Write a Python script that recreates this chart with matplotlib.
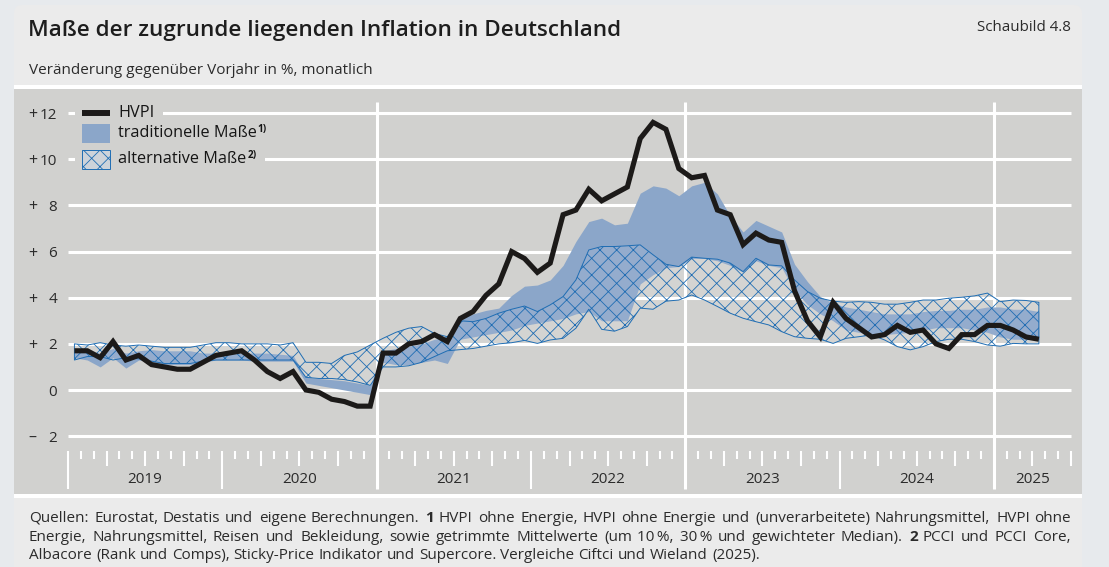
import matplotlib
matplotlib.use('Agg')
import matplotlib.pyplot as plt
from matplotlib.patches import Rectangle, FancyBboxPatch
from matplotlib.transforms import IdentityTransform
import numpy as np

plt.rcParams['font.family'] = ['Open Sans', 'DejaVu Sans']
plt.rcParams['hatch.linewidth'] = 0.6
plt.rcParams['hatch.color'] = '#1f6db3'

# ---------------- data (monthly, Jan 2019 - Apr 2025) ----------------
years = ['2019', '2020', '2021', '2022', '2023', '2024', '2025']
yticks = [12, 10, 8, 6, 4, 2, 0, -2]

hvpi = [1.7, 1.7, 1.4, 2.1, 1.3, 1.5, 1.1, 1.0, 0.9, 0.9, 1.2, 1.5,
        1.6, 1.7, 1.3, 0.8, 0.5, 0.8, 0.0, -0.1, -0.4, -0.5, -0.7, -0.7,
        1.6, 1.6, 2.0, 2.1, 2.4, 2.1, 3.1, 3.4, 4.1, 4.6, 6.0, 5.7,
        5.1, 5.5, 7.6, 7.8, 8.7, 8.2, 8.5, 8.8, 10.9, 11.6, 11.3, 9.6,
        9.2, 9.3, 7.8, 7.6, 6.3, 6.8, 6.5, 6.4, 4.3, 3.0, 2.3, 3.8,
        3.1, 2.7, 2.3, 2.4, 2.8, 2.5, 2.6, 2.0, 1.8, 2.4, 2.4, 2.8,
        2.8, 2.6, 2.3, 2.2]

trad_lo = [1.4, 1.3, 1.0, 1.4, 0.95, 1.3, 1.2, 1.1, 1.1, 1.1, 1.2, 1.3,
           1.3, 1.3, 1.25, 1.25, 1.25, 1.25, 0.3, 0.2, 0.1, 0.0, -0.1, -0.2,
           1.2, 1.1, 1.1, 1.2, 1.3, 1.15, 2.2, 2.3, 2.4, 2.5, 2.6, 2.8,
           2.9, 3.0, 3.1, 3.3, 3.4, 3.0, 3.0, 3.0, 4.6, 5.0, 5.3, 5.35,
           5.7, 5.7, 5.6, 5.4, 5.1, 5.6, 5.4, 5.3, 4.3, 3.7, 3.3, 3.0,
           2.6, 2.5, 2.4, 2.4, 2.45, 2.5, 2.6, 2.7, 2.7, 2.7, 2.6, 2.5,
           2.3, 2.2, 2.2, 2.2]

trad_hi = [1.8, 1.7, 1.6, 1.8, 1.6, 1.7, 1.75, 1.7, 1.7, 1.7, 1.6, 1.6,
           1.6, 1.6, 1.6, 1.6, 1.55, 1.5, 0.55, 0.5, 0.45, 0.4, 0.3, 0.2,
           1.7, 1.8, 1.9, 2.0, 2.2, 2.3, 3.1, 3.3, 3.45, 3.55, 4.1, 4.5,
           4.55, 4.77, 5.4, 6.44, 7.3, 7.45, 7.16, 7.23, 8.53, 8.85, 8.75, 8.42,
           8.85, 9.0, 8.5, 7.55, 6.85, 7.35, 7.1, 6.85, 5.45, 4.7, 4.05, 3.76,
           3.6, 3.5, 3.4, 3.3, 3.3, 3.3, 3.4, 3.45, 3.45, 3.5, 3.5, 3.6,
           3.6, 3.5, 3.5, 3.4]

alt_lo = [1.3, 1.45, 1.45, 1.3, 1.4, 1.35, 1.25, 1.15, 1.15, 1.15, 1.25, 1.3,
          1.3, 1.3, 1.3, 1.3, 1.3, 1.3, 0.55, 0.5, 0.5, 0.45, 0.35, 0.2,
          1.0, 1.0, 1.05, 1.2, 1.45, 1.7, 1.75, 1.8, 1.9, 2.0, 2.05, 2.15,
          2.02, 2.17, 2.24, 2.68, 3.5, 2.63, 2.55, 2.75, 3.55, 3.5, 3.85, 3.9,
          4.12, 3.9, 3.62, 3.33, 3.11, 2.96, 2.82, 2.53, 2.31, 2.24, 2.2, 2.02,
          2.24, 2.31, 2.39, 2.17, 1.88, 1.74, 1.88, 2.1, 2.2, 2.2, 2.1, 1.95,
          1.9, 2.02, 2.0, 2.0]

alt_hi = [2.0, 1.95, 2.05, 1.95, 1.9, 1.95, 1.9, 1.85, 1.85, 1.85, 1.95, 2.05,
          2.05, 2.0, 2.0, 2.0, 1.95, 2.05, 1.2, 1.2, 1.15, 1.5, 1.65, 1.95,
          2.24, 2.5, 2.68, 2.75, 2.45, 2.31, 3.0, 2.96, 3.1, 3.33, 3.5, 3.64,
          3.4, 3.69, 4.05, 4.77, 6.07, 6.22, 6.22, 6.25, 6.29, 5.86, 5.45, 5.35,
          5.76, 5.71, 5.67, 5.5, 5.13, 5.71, 5.42, 5.38, 4.77, 4.27, 3.98, 3.85,
          3.8, 3.83, 3.8, 3.72, 3.72, 3.8, 3.9, 3.9, 3.98, 4.02, 4.08, 4.2,
          3.83, 3.9, 3.88, 3.8]

legend_labels = ['HVPI', 'traditionelle Maße', 'alternative Maße']
legend_sup = ['', '1)', '2)']

title = 'Maße der zugrunde liegenden Inflation in Deutschland'
subtitle = 'Veränderung gegenüber Vorjahr in %, monatlich'
figno = 'Schaubild 4.8'
footer_lines = [
    [('Quellen:', 0), ('Eurostat,', 0), ('Destatis', 0), ('und', 0), ('eigene', 0), ('Berechnungen.', 0),
     ('1', 1), ('HVPI', 0), ('ohne', 0), ('Energie,', 0), ('HVPI', 0), ('ohne', 0), ('Energie', 0), ('und', 0),
     ('(unverarbeitete)', 0), ('Nahrungsmittel,', 0), ('HVPI', 0), ('ohne', 0)],
    [('Energie,', 0), ('Nahrungsmittel,', 0), ('Reisen', 0), ('und', 0), ('Bekleidung,', 0), ('sowie', 0),
     ('getrimmte', 0), ('Mittelwerte', 0), ('(um', 0), ('10\u2009%,', 0), ('30\u2009%', 0), ('und', 0),
     ('gewichteter', 0), ('Median).', 0), ('2', 1), ('PCCI', 0), ('und', 0), ('PCCI', 0), ('Core,', 0)],
    [('Albacore', 0), ('(Rank', 0), ('und', 0), ('Comps),', 0), ('Sticky-Price', 0), ('Indikator', 0),
     ('und', 0), ('Supercore.', 0), ('Vergleiche', 0), ('Ciftci', 0), ('und', 0), ('Wieland', 0), ('(2025).', 0)],
]

# ---------------- style ----------------
C_TRAD = '#8ba6c9'
C_ALT = '#1f6db3'
C_LINE = '#1c1a19'
C_PANEL = '#d1d1cf'
C_CARD = '#ebebeb'
C_TXT = '#2b2b2b'

W, H = 1109, 567
fig = plt.figure(figsize=(W / 100, H / 100), dpi=100)
fig.patch.set_facecolor('#e7eaed')
ID = IdentityTransform()

card = FancyBboxPatch((14, -30), 1068, H - 5 + 30, boxstyle='round,pad=0,rounding_size=8',
                      transform=ID, facecolor=C_CARD, edgecolor='none', zorder=0)
fig.add_artist(card)
for top in (85, 494):
    fig.add_artist(Rectangle((14, H - top - 4), 1068, 4, transform=ID,
                             facecolor='white', edgecolor='none', zorder=1))

ax = fig.add_axes([14 / W, (H - 494) / H, 1068 / W, 405 / H])
ax.set_facecolor(C_PANEL)
for s in ax.spines.values():
    s.set_visible(False)
ax.set_xticks([])
ax.set_yticks([])

X0, XS = 68.0, 1003.0 / 78.0
Y0, YS = 390.0, 23.07


def dx(px):
    return (px - X0) / XS


def dy(py):
    return (Y0 - py) / YS


ax.set_xlim(dx(14), dx(1082))
ax.set_ylim(dy(494), dy(89))

n = len(hvpi)
months = np.arange(n) + 0.5
nmonths = 78

# grid
for v in yticks:
    ax.plot([0, nmonths], [v, v], color='white', lw=2.2, solid_capstyle='butt', zorder=1)
for m in (24, 48, 72):
    ax.plot([m, m], [dy(489), dy(102)], color='white', lw=2.2, solid_capstyle='butt', zorder=1)

# month ticks
for m in range(0, nmonths + 1):
    if m in (24, 48, 72):
        continue
    if m % 12 == 0:
        y1 = dy(489)
    elif m % 3 == 0:
        y1 = dy(466)
    else:
        y1 = dy(459)
    ax.plot([m, m], [dy(451), y1], color='white', lw=1.5, solid_capstyle='butt', zorder=1)

for k, yr in enumerate(years):
    cx = 12 * k + 6 if k < 6 else 72 + (nmonths - 72) / 2
    ax.text(cx, dy(477.5), yr, ha='center', va='center_baseline', fontsize=11, color=C_TXT)

for v in yticks:
    ax.text(dx(57), v, str(abs(v)), ha='right', va='center_baseline', fontsize=11, color=C_TXT)
    sign = '+' if v > 0 else ('\u2013' if v < 0 else '')
    if sign:
        ax.text(dx(32.5), v, sign, ha='center', va='center_baseline', fontsize=11.5, color=C_TXT)

# bands and line
ax.fill_between(months, trad_lo, trad_hi, color=C_TRAD, lw=0, zorder=2)
ax.fill_between(months, alt_lo, alt_hi, facecolor=(1, 1, 1, 0.08), edgecolor=C_ALT,
                hatch='xx', lw=0.7, zorder=3)
ax.plot(months, hvpi, color=C_LINE, lw=3.7, solid_joinstyle='miter', solid_capstyle='butt', zorder=5)

# legend (manual)
rows = [113, 133.5, 159.5]
ax.plot([dx(82), dx(110)], [dy(rows[0])] * 2, color=C_LINE, lw=4.3, solid_capstyle='butt', zorder=8)
ax.add_patch(Rectangle((dx(82), dy(143)), dx(110) - dx(82), dy(124) - dy(143),
                       facecolor=C_TRAD, edgecolor='none', zorder=8))
ax.add_patch(Rectangle((dx(82), dy(169)), dx(110) - dx(82), dy(150) - dy(169),
                       facecolor='#cdd3da', edgecolor=C_ALT, hatch='xx', lw=0.7, zorder=8))
leg_txt = []
for r, lab in zip(rows, legend_labels):
    leg_txt.append(ax.text(dx(118), dy(r), lab, ha='left', va='center', fontsize=11,
                           color='#151515', zorder=9))

# header texts
t_title = fig.text(28, H - 36, title, transform=ID, ha='left', va='baseline', fontsize=17,
                   fontweight='semibold', color='#1e1e1e')
t_sub = fig.text(29, H - 74, subtitle, transform=ID, ha='left', va='baseline', fontsize=11,
                 color=C_TXT)
t_no = fig.text(1071, H - 31, figno, transform=ID, ha='right', va='baseline', fontsize=11,
                color=C_TXT)

fig.canvas.draw()
R = fig.canvas.get_renderer()


def wid(t):
    return t.get_window_extent(R).width


def fit(t, target):
    t.set_fontsize(t.get_fontsize() * target / wid(t))


fit(t_title, 591)
fit(t_sub, 344)
fit(t_no, 94)
fs_leg = 11 * 139 / wid(leg_txt[1])
for t in leg_txt:
    t.set_fontsize(fs_leg)

# legend superscripts and masks behind rows (gridlines are interrupted there)
fig.canvas.draw()
for i, (r, t) in enumerate(zip(rows, leg_txt)):
    ext = t.get_window_extent(R)
    xend = ext.x1
    if legend_sup[i]:
        s = ax.text(dx(ext.x1 + 1), dy(r - 4), legend_sup[i], ha='left', va='center',
                    fontsize=fs_leg * 0.62, fontweight='bold', color='#151515', zorder=9)
        fig.canvas.draw()
        xend = s.get_window_extent(R).x1
    ax.add_patch(Rectangle((dx(75), dy(r + 10)), dx(xend + 9) - dx(75), dy(r - 10) - dy(r + 10),
                           facecolor=C_PANEL, edgecolor='none', zorder=7))

# footer, justified word by word (integer baselines for consistent glyph placement)
fs_f = 10.0
probe = fig.text(0, 0, ' '.join(w for w, b in footer_lines[2]), transform=ID, fontsize=fs_f)
fs_f = fs_f * 731 / wid(probe)
probe.remove()
p1 = fig.text(0, 0, 'n n', transform=ID, fontsize=fs_f)
p2 = fig.text(0, 0, 'nn', transform=ID, fontsize=fs_f)
space_w = wid(p1) - wid(p2)
p1.remove()
p2.remove()

baselines = [522, 541, 559]
for li, (toks, yb) in enumerate(zip(footer_lines, baselines)):
    arts = [fig.text(0, H - yb, w, transform=ID, fontsize=fs_f, va='baseline', ha='left',
                     fontweight='bold' if b else 'normal', color=C_TXT) for w, b in toks]
    ws = [wid(a) for a in arts]
    if li < len(footer_lines) - 1:
        gap = (1071 - 29 - sum(ws)) / (len(arts) - 1)
    else:
        gap = space_w
    x = 29.0
    for a, w in zip(arts, ws):
        a.set_x(round(x))
        x += w + gap

fig.savefig('out.png', dpi=100, facecolor=fig.get_facecolor())
